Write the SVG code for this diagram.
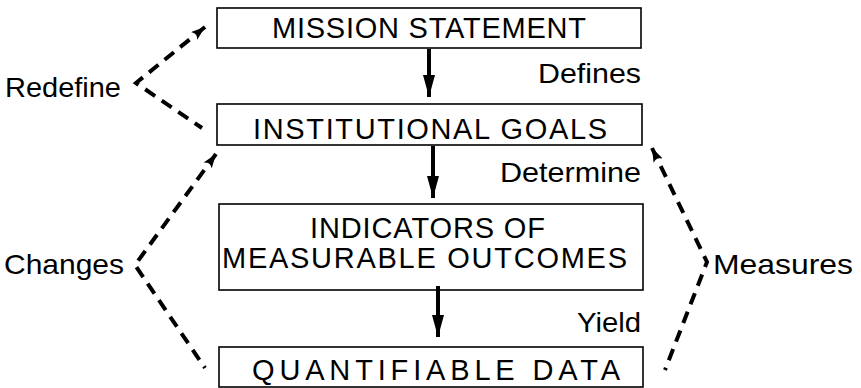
<svg xmlns="http://www.w3.org/2000/svg" width="861" height="388" viewBox="0 0 861 388">
<style>
.box{fill:#fff;stroke:#000;stroke-width:1.6}
.t{font-family:"Liberation Sans",Arial,sans-serif;font-size:29px;fill:#000}
.lbl{font-family:"Liberation Sans",Arial,sans-serif;font-size:28.5px;fill:#000}
.solid{stroke:#000;stroke-width:4;fill:none}
.dash{stroke:#000;stroke-width:4;fill:none;stroke-dasharray:12 8}
</style>
<defs>
<marker id="bigArrow" viewBox="0 0 22 12" refX="22" refY="6" markerWidth="5.5" markerHeight="3" orient="auto" markerUnits="strokeWidth">
<path d="M0,0 L22,6 L0,12 z" fill="#000"/>
</marker>
<marker id="dashArrow" viewBox="0 0 14 10" refX="14" refY="5" markerWidth="3.5" markerHeight="2.5" orient="auto-start-reverse" markerUnits="strokeWidth">
<path d="M0,0 L14,5 L0,10 L3,5 z" fill="#000"/>
</marker>
</defs>
<g id="mission">
<rect class="box" x="217" y="8" width="424" height="40"/>
<text class="t" x="272" y="38" textLength="314" lengthAdjust="spacing">MISSION STATEMENT</text>
</g>
<g id="goals">
<rect class="box" x="217" y="104" width="425" height="41"/>
<text class="t" x="253" y="139" textLength="354" lengthAdjust="spacing">INSTITUTIONAL GOALS</text>
</g>
<g id="indicators">
<rect class="box" x="219" y="204" width="424" height="86"/>
<text class="t" x="310" y="238" textLength="235" lengthAdjust="spacing">INDICATORS OF</text>
<text class="t" x="222" y="268" textLength="405" lengthAdjust="spacing">MEASURABLE OUTCOMES</text>
</g>
<g id="data">
<rect class="box" x="219" y="347" width="424" height="40"/>
<text class="t" x="252" y="380" textLength="368" lengthAdjust="spacing">QUANTIFIABLE DATA</text>
</g>
<g id="connectors">
<line class="solid" x1="429" y1="49" x2="429" y2="97" marker-end="url(#bigArrow)"/>
<line class="solid" x1="433" y1="146" x2="433" y2="198" marker-end="url(#bigArrow)"/>
<line class="solid" x1="438" y1="286" x2="438" y2="337" marker-end="url(#bigArrow)"/>
<polyline class="dash" points="205,27 136,83 202,128" marker-start="url(#dashArrow)"/>
<polyline class="dash" points="216,154 135,265 205,368" marker-start="url(#dashArrow)"/>
<polyline class="dash" points="652,148 707,262 665,370" marker-start="url(#dashArrow)"/>
</g>
<g id="labels">
<text class="lbl" x="538" y="83" textLength="103" lengthAdjust="spacingAndGlyphs">Defines</text>
<text class="lbl" x="500" y="182" textLength="141" lengthAdjust="spacingAndGlyphs">Determine</text>
<text class="lbl" x="577" y="332" textLength="64" lengthAdjust="spacingAndGlyphs">Yield</text>
<text class="lbl" x="5" y="97" textLength="116" lengthAdjust="spacingAndGlyphs">Redefine</text>
<text class="lbl" x="4" y="274" textLength="120" lengthAdjust="spacingAndGlyphs">Changes</text>
<text class="lbl" x="713" y="274" textLength="140" lengthAdjust="spacingAndGlyphs">Measures</text>
</g>
</svg>
